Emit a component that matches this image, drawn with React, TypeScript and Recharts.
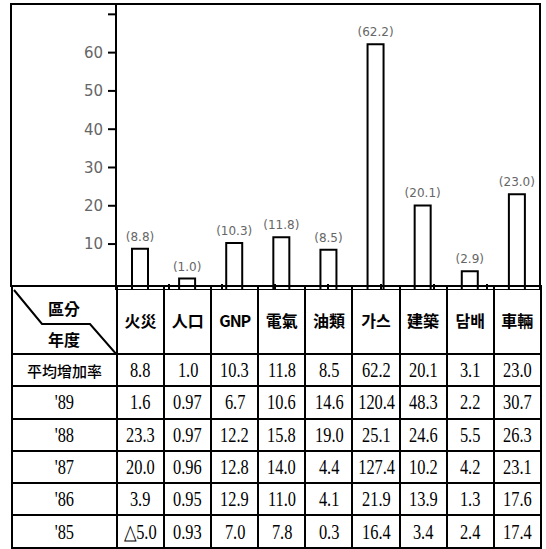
import { Bar, BarChart, LabelList, XAxis, YAxis } from "recharts";

const categories = ["火災", "人口", "GNP", "電氣", "油類", "가스", "建築", "담배", "車輛"];
// bar heights as labelled above the bars
const barValues = [8.8, 1.0, 10.3, 11.8, 8.5, 62.2, 20.1, 2.9, 23.0];
const yTicks = [10, 20, 30, 40, 50, 60, 70];
const boundaryTicks = [1, 2, 3, 4, 5, 6, 7, 8];

const rowLabels = ["平均增加率", "'89", "'88", "'87", "'86", "'85"];
const avgRate = [8.8, 1.0, 10.3, 11.8, 8.5, 62.2, 20.1, 3.1, 23.0];
const y89 = [1.6, 0.97, 6.7, 10.6, 14.6, 120.4, 48.3, 2.2, 30.7];
const y88 = [23.3, 0.97, 12.2, 15.8, 19.0, 25.1, 24.6, 5.5, 26.3];
const y87 = [20.0, 0.96, 12.8, 14.0, 4.4, 127.4, 10.2, 4.2, 23.1];
const y86 = [3.9, 0.95, 12.9, 11.0, 4.1, 21.9, 13.9, 1.3, 17.6];
const y85 = [-5.0, 0.93, 7.0, 7.8, 0.3, 16.4, 3.4, 2.4, 17.4];
const tableRows = [avgRate, y89, y88, y87, y86, y85];

const chartData = categories.map((name, i) => ({ name, value: barValues[i] }));

function fmt(v: number) {
  const a = Math.abs(v);
  const s = Number.isInteger(Math.round(a * 100) / 10) ? a.toFixed(1) : a.toFixed(2);
  return v < 0 ? "△" + s : s;
}

const cell = {
  border: "2px solid #000",
  padding: 0,
  textAlign: "center" as const,
  verticalAlign: "middle" as const,
  overflow: "hidden",
  whiteSpace: "nowrap" as const,
};

const num = {
  display: "inline-block",
  fontFamily: "'Liberation Serif', serif",
  fontSize: 21,
  transform: "scaleX(0.78)",
  lineHeight: "22px",
};

// frame edges as [left, top, width, height]
const frameEdges = [
  [10, 3, 531, 2],
  [10, 3, 2, 284],
  [539, 3, 2, 284],
];

export default function App() {
  return (
    <div style={{ position: "absolute", left: 0, top: 0, width: 546, height: 549, background: "#fff" }}>
      {frameEdges.map(([l, t, w, h], i) => (
        <div key={i} style={{ position: "absolute", left: l, top: t, width: w, height: h, background: "#000" }} />
      ))}
      <div style={{ position: "absolute", left: 0, top: 0 }}>
        <BarChart width={546} height={290} data={chartData} margin={{ top: 4, right: 6, bottom: 0, left: 56 }}>
          <XAxis xAxisId="cat" dataKey="name" hide />
          <XAxis
            xAxisId="grid"
            type="number"
            domain={[0, 9]}
            allowDataOverflow
            ticks={boundaryTicks}
            mirror
            tickSize={6}
            height={5}
            tickFormatter={() => ""}
            axisLine={{ stroke: "#000", strokeWidth: 2 }}
            tickLine={{ stroke: "#000", strokeWidth: 2 }}
          />
          <YAxis
            domain={[-2, 72.7]}
            allowDataOverflow
            ticks={yTicks}
            width={60}
            tickSize={8}
            tickMargin={5}
            tickFormatter={(v) => (v === 70 ? "" : String(v))}
            axisLine={{ stroke: "#000", strokeWidth: 2 }}
            tickLine={{ stroke: "#000", strokeWidth: 2 }}
            tick={{ fill: "#666", fontSize: 15, fontFamily: "DejaVu Sans" }}
          />
          <Bar
            xAxisId="cat"
            dataKey={(d: { value: number }) => [-2, d.value]}
            barSize={16}
            fill="#fff"
            stroke="#000"
            strokeWidth={2}
            isAnimationActive={false}
          >
            <LabelList
              dataKey="value"
              position="top"
              offset={8}
              formatter={(v: number) => `(${Number(v).toFixed(1)})`}
              fill="#666"
              fontSize={12}
              fontFamily="DejaVu Sans"
            />
          </Bar>
        </BarChart>
      </div>

      <table
        style={{
          position: "absolute",
          left: 11,
          top: 285,
          width: 529,
          height: 262,
          borderCollapse: "collapse",
          tableLayout: "fixed",
        }}
      >
        <colgroup>
          <col style={{ width: 105 }} />
          {categories.map((c) => (
            <col key={c} style={{ width: 47.1 }} />
          ))}
        </colgroup>
        <tbody>
          <tr style={{ height: 68 }}>
            <td style={{ ...cell, position: "relative" }}>
              <svg width={105} height={68} style={{ position: "absolute", left: 0, top: 0 }}>
                <polyline points="1,3 29,37 77,37 104,68" fill="none" stroke="#000" strokeWidth={2} />
                <text x={51} y={28} textAnchor="middle" fontSize={16} fontWeight={700} fontFamily="'Noto Sans CJK KR'">
                  區分
                </text>
                <text x={51} y={59} textAnchor="middle" fontSize={16} fontWeight={700} fontFamily="'Noto Sans CJK KR'">
                  年度
                </text>
              </svg>
            </td>
            {categories.map((c) => (
              <td
                key={c}
                style={{
                  ...cell,
                  fontFamily: "'Noto Sans CJK KR'",
                  fontWeight: 700,
                  fontSize: 16,
                  letterSpacing: c === "GNP" ? -1 : 0,
                }}
              >
                {c}
              </td>
            ))}
          </tr>
          {tableRows.map((row, r) => (
            <tr key={rowLabels[r]} style={{ height: 32.3 }}>
              <td style={cell}>
                {r === 0 ? (
                  <span style={{ fontFamily: "'Noto Sans CJK KR'", fontSize: 15, fontWeight: 500 }}>{rowLabels[r]}</span>
                ) : (
                  <span style={num}>{rowLabels[r]}</span>
                )}
              </td>
              {row.map((v, i) => (
                <td key={i} style={cell}>
                  <span style={num}>{fmt(v)}</span>
                </td>
              ))}
            </tr>
          ))}
        </tbody>
      </table>
    </div>
  );
}
